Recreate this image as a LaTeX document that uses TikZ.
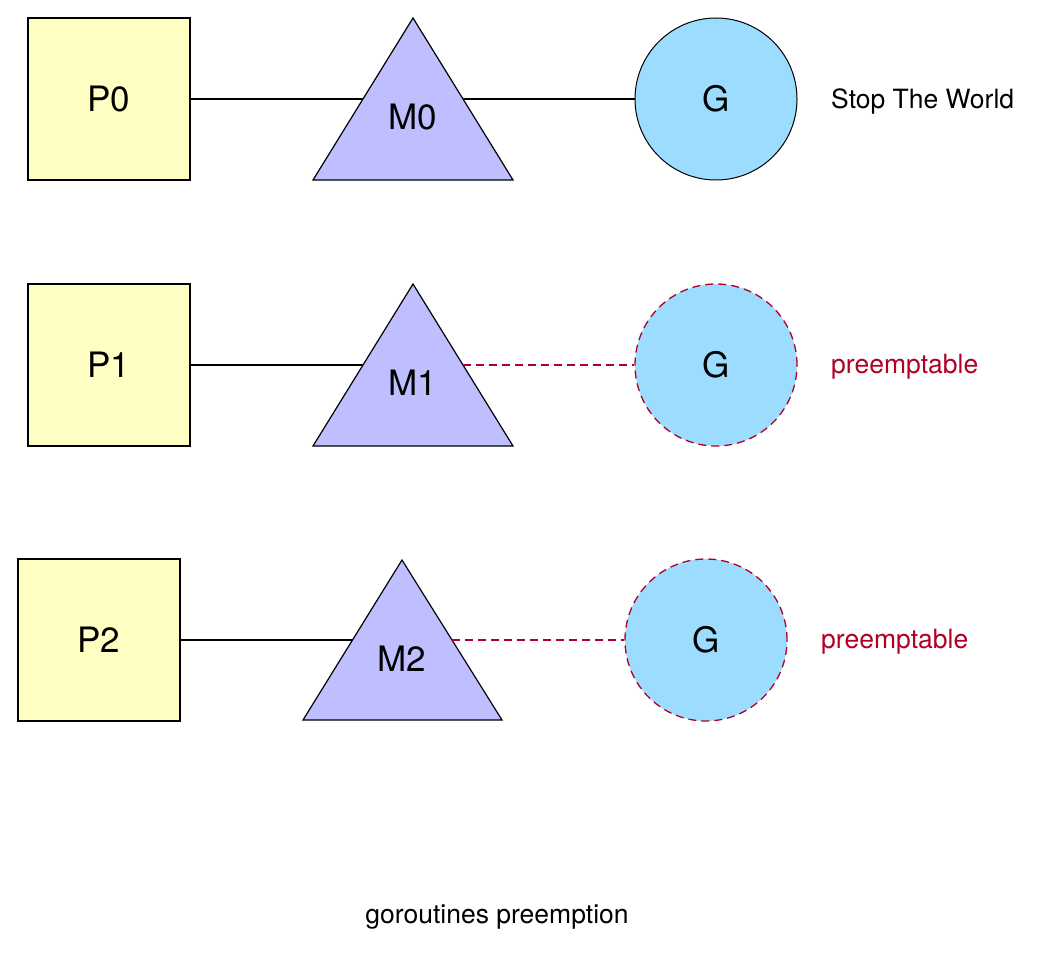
\documentclass[tikz,border=0pt]{standalone}
\usepackage{fontspec}
\setmainfont{TeX Gyre Heros}
\usepackage{tikz}
\usetikzlibrary{positioning}

\definecolor{procfill}{HTML}{FFFFC4}
\definecolor{machfill}{HTML}{BFBFFF}
\definecolor{gorfill}{HTML}{9CDCFE}
\definecolor{preemptred}{HTML}{B0002A}

\tikzset{
  proc/.style={draw, fill=procfill, line width=1.2pt, minimum size=162pt, inner sep=0pt, font=\fontsize{35}{40}\selectfont},
  mach/.style={draw, fill=machfill, line width=1.2pt, line join=miter},
  gor/.style={circle, draw, fill=gorfill, line width=1pt, minimum size=162pt, inner sep=0pt, font=\fontsize{35}{40}\selectfont},
  gordash/.style={gor, draw=preemptred, line width=1.3pt, dash pattern=on 8pt off 5pt},
  mlabel/.style={inner sep=0pt, font=\fontsize{35}{40}\selectfont},
  note/.style={anchor=west, inner sep=0pt, font=\fontsize{26.5}{30}\selectfont},
  link/.style={line width=1.2pt},
  linkdash/.style={draw=preemptred, line width=1.3pt, dash pattern=on 8pt off 5pt}
}

\begin{document}
\begin{tikzpicture}[x=1pt,y=-1pt]
\useasboundingbox (0,0) rectangle (1040,957);

% row 0: stop the world
\node[proc] (p0) at (109,99) {P0};
\node[gor] (g0) at (716,99) {G};
\draw[link] (p0) -- (g0);
\draw[mach] (313,180) -- (413,18) -- (513,180) -- cycle;
\node[mlabel] (m0) at (413,117) {M0};
\node[note] (stw) at (831,101) {Stop The World};

% row 1
\node[proc] (p1) at (109,365) {P1};
\node[gordash] (g1) at (716,365) {G};
\draw[mach] (313,446) -- (413,284) -- (513,446) -- cycle;
\node[mlabel] (m1) at (413,383) {M1};
\coordinate (m1l) at (363,365);
\coordinate (m1r) at (463,365);
\draw[link] (p1) -- (m1l);
\draw[linkdash] (m1r) -- (g1);
\node[note, text=preemptred] (pre1) at (831,367) {preemptable};

% row 2
\node[proc] (p2) at (99,640) {P2};
\node[gordash] (g2) at (706,640) {G};
\draw[mach] (303,720) -- (402,560) -- (502,720) -- cycle;
\node[mlabel] (m2) at (402,659) {M2};
\coordinate (m2l) at (352,640);
\coordinate (m2r) at (452,640);
\draw[link] (p2) -- (m2l);
\draw[linkdash] (m2r) -- (g2);
\node[note, text=preemptred] (pre2) at (821,642) {preemptable};

% caption
\node[note, anchor=center] (cap) at (497,917) {goroutines preemption};
\end{tikzpicture}
\end{document}
